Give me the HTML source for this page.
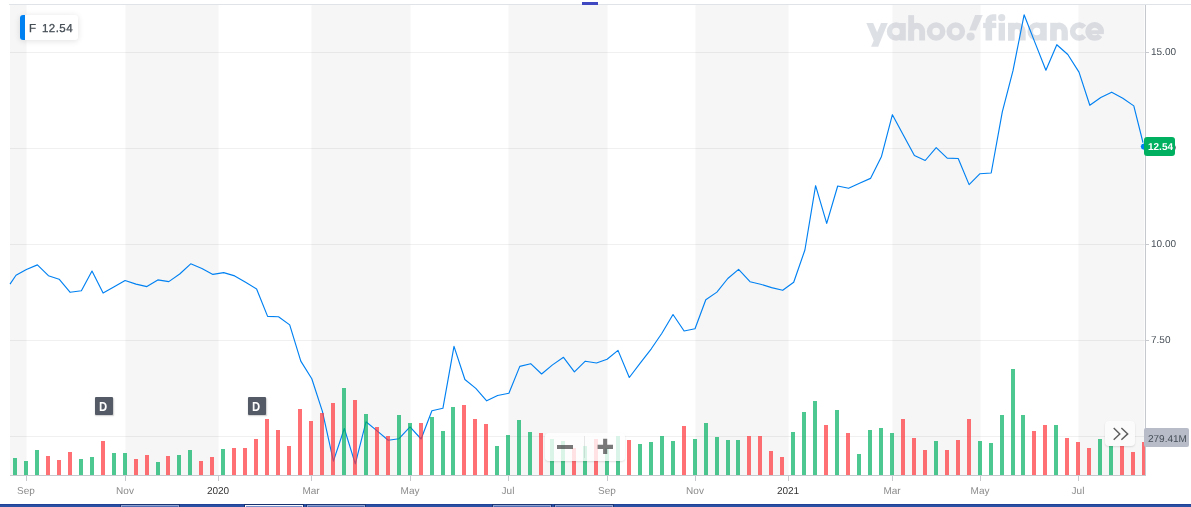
<!DOCTYPE html>
<html><head><meta charset="utf-8"><title>F chart</title>
<style>
html,body{margin:0;padding:0;background:#fff;}
body{width:1191px;height:507px;position:relative;overflow:hidden;font-family:"Liberation Sans",sans-serif;}
#c{position:absolute;left:0;top:0;}
.t{position:absolute;white-space:nowrap;line-height:1;will-change:transform;text-rendering:geometricPrecision;}
.xl{font-size:10px;color:#8a8a8a;width:60px;text-align:center;top:487px;}
.xl.y{color:#333;}
.yl{font-size:10px;color:#464e56;left:1151.2px;}
</style></head><body>
<svg id="c" width="1191" height="507" viewBox="0 0 1191 507">
<rect x="10" y="5" width="16.5" height="470" fill="#f6f6f6"/>
<rect x="125.5" y="5" width="93.0" height="470" fill="#f6f6f6"/>
<rect x="311.5" y="5" width="99.0" height="470" fill="#f6f6f6"/>
<rect x="508.5" y="5" width="99.0" height="470" fill="#f6f6f6"/>
<rect x="695.5" y="5" width="93.0" height="470" fill="#f6f6f6"/>
<rect x="892.5" y="5" width="88.0" height="470" fill="#f6f6f6"/>
<rect x="1078.5" y="5" width="65.79999999999995" height="470" fill="#f6f6f6"/>
<defs><clipPath id="ca1"><rect x="880" y="10" width="25.8" height="40"/></clipPath><clipPath id="ca2"><rect x="1020" y="10" width="26.8" height="40"/></clipPath></defs><g opacity="0.5" fill="#bdc2cc" stroke="none"><polygon points="866.3,23 873.2,23 877.1,32.3 881,23 887.8,23 878.2,46.7 871.1,46.7 873.7,40.4"/><circle cx="896.1" cy="31.5" r="6.55" fill="none" stroke="#bdc2cc" stroke-width="5.6" clip-path="url(#ca1)"/><rect x="899.9" y="23" width="5.9" height="17.5"/><rect x="908.2" y="15.1" width="5.9" height="25.4"/><path d="M911.15 40.5 V31.2 A5.5 5.5 0 0 1 922.15 31.2 V40.5" fill="none" stroke="#bdc2cc" stroke-width="5.9"/><circle cx="936.1" cy="31.5" r="6.55" fill="none" stroke="#bdc2cc" stroke-width="5.6"/><circle cx="955.8" cy="31.5" r="6.55" fill="none" stroke="#bdc2cc" stroke-width="5.6"/><polygon points="975.1,15.1 982.8,15.1 975.9,30.4 969.1,30.4"/><circle cx="970.6" cy="36.6" r="4.1"/><path d="M988.8 40.6 V21.6 A4.1 4.1 0 0 1 992.9 17.5 H996.3" fill="none" stroke="#bdc2cc" stroke-width="6.6"/><rect x="983.1" y="22.8" width="13.2" height="5.3"/><rect x="998.6" y="22.8" width="6.4" height="17.8"/><circle cx="1001.7" cy="17.7" r="3.6"/><rect x="1008" y="22.8" width="6.4" height="17.8"/><path d="M1011.2 40.6 V31.4 A5.65 5.65 0 0 1 1022.5 31.4 V40.6" fill="none" stroke="#bdc2cc" stroke-width="6.4"/><circle cx="1036.8" cy="31.5" r="6.55" fill="none" stroke="#bdc2cc" stroke-width="5.6" clip-path="url(#ca2)"/><rect x="1040.4" y="22.8" width="6.4" height="17.8"/><rect x="1050.2" y="22.8" width="6.4" height="17.8"/><path d="M1053.4 40.6 V31.4 A5.65 5.65 0 0 1 1064.7 31.4 V40.6" fill="none" stroke="#bdc2cc" stroke-width="6.4"/><path d="M1084.22 35.71 A6.55 6.55 0 1 1 1084.22 27.29" fill="none" stroke="#bdc2cc" stroke-width="5.6"/><path d="M1100.00 35.35 A6.55 6.55 0 1 1 1101.25 31.50" fill="none" stroke="#bdc2cc" stroke-width="5.6"/><rect x="1091" y="30.2" width="12.9" height="3.9"/></g>
<rect x="10" y="52" width="1135" height="1" fill="#000" fill-opacity="0.06"/>
<rect x="10" y="148" width="1135" height="1" fill="#000" fill-opacity="0.06"/>
<rect x="10" y="244" width="1135" height="1" fill="#000" fill-opacity="0.06"/>
<rect x="10" y="340" width="1135" height="1" fill="#000" fill-opacity="0.06"/>
<rect x="10" y="436" width="1135" height="1" fill="#000" fill-opacity="0.06"/>
<polyline points="10.0,284.1 16.0,275.3 26.4,269.5 37.4,264.9 48.4,275.7 59.1,279.2 70.2,292.3 81.4,290.8 92.0,271.1 103.1,293.1 114.2,286.8 125.1,280.5 136.0,284.1 146.9,286.6 157.8,279.9 168.8,281.6 179.7,274.0 190.7,263.8 201.9,268.5 212.9,274.4 223.7,272.6 234.7,275.9 245.6,282.2 256.6,289.0 267.6,316.4 278.5,316.7 289.7,324.9 300.8,361.1 311.8,378.8 322.4,411.4 333.4,461.1 344.3,428.5 355.3,463.8 366.0,421.8 377.1,430.9 388.2,440.3 399.0,438.7 410.0,426.9 421.1,439.0 431.9,410.7 442.9,408.3 454.0,346.4 464.9,379.5 475.8,388.4 486.7,400.8 497.6,395.5 508.9,393.3 519.8,366.4 530.7,363.7 541.6,374.0 552.5,364.9 563.5,357.3 574.4,371.9 585.3,361.2 596.5,363.0 607.1,359.3 618.0,350.4 629.3,377.5 640.2,363.1 651.3,348.8 661.9,333.2 673.0,314.5 684.1,331.0 695.0,328.8 705.8,299.7 716.9,292.1 727.8,278.5 738.6,269.4 750.0,281.7 760.5,284.2 771.6,287.6 782.7,290.3 793.7,282.2 804.9,250.0 815.6,185.7 826.7,223.4 837.7,186.0 848.6,188.3 859.5,183.2 870.5,178.4 881.5,156.4 892.4,114.7 903.3,135.1 914.4,155.5 925.2,160.5 936.2,147.6 947.2,158.1 958.2,158.5 969.1,184.6 980.0,173.7 991.2,173.0 1002.3,111.9 1013.0,70.7 1024.1,14.8 1035.0,42.6 1045.9,70.2 1056.8,44.7 1067.8,54.5 1079.0,72.1 1089.8,105.3 1100.8,97.5 1111.7,92.2 1122.8,98.2 1133.8,105.9 1144.0,146.5" fill="none" stroke="#0081f2" stroke-width="1.15" stroke-linejoin="round"/>
<g clip-path="url(#cp)">
<rect x="13" y="458" width="4" height="17" fill="#00b061" fill-opacity="0.7"/>
<rect x="24" y="461" width="4" height="14" fill="#00b061" fill-opacity="0.7"/>
<rect x="35" y="450" width="4" height="25" fill="#00b061" fill-opacity="0.7"/>
<rect x="46" y="456" width="4" height="19" fill="#ff333a" fill-opacity="0.7"/>
<rect x="57" y="460" width="4" height="15" fill="#ff333a" fill-opacity="0.7"/>
<rect x="68" y="452" width="4" height="23" fill="#ff333a" fill-opacity="0.7"/>
<rect x="79" y="459" width="4" height="16" fill="#00b061" fill-opacity="0.7"/>
<rect x="90" y="457" width="4" height="18" fill="#00b061" fill-opacity="0.7"/>
<rect x="101" y="441" width="4" height="34" fill="#ff333a" fill-opacity="0.7"/>
<rect x="112" y="453" width="4" height="22" fill="#00b061" fill-opacity="0.7"/>
<rect x="123" y="453" width="4" height="22" fill="#00b061" fill-opacity="0.7"/>
<rect x="134" y="459" width="4" height="16" fill="#ff333a" fill-opacity="0.7"/>
<rect x="145" y="455" width="4" height="20" fill="#ff333a" fill-opacity="0.7"/>
<rect x="156" y="462" width="4" height="13" fill="#00b061" fill-opacity="0.7"/>
<rect x="166" y="456" width="4" height="19" fill="#ff333a" fill-opacity="0.7"/>
<rect x="177" y="455" width="4" height="20" fill="#00b061" fill-opacity="0.7"/>
<rect x="188" y="450" width="4" height="25" fill="#00b061" fill-opacity="0.7"/>
<rect x="199" y="461" width="4" height="14" fill="#ff333a" fill-opacity="0.7"/>
<rect x="210" y="457" width="4" height="18" fill="#ff333a" fill-opacity="0.7"/>
<rect x="221" y="449" width="4" height="26" fill="#00b061" fill-opacity="0.7"/>
<rect x="232" y="448" width="4" height="27" fill="#ff333a" fill-opacity="0.7"/>
<rect x="243" y="448" width="4" height="27" fill="#ff333a" fill-opacity="0.7"/>
<rect x="254" y="439" width="4" height="36" fill="#ff333a" fill-opacity="0.7"/>
<rect x="265" y="419" width="4" height="56" fill="#ff333a" fill-opacity="0.7"/>
<rect x="276" y="430" width="4" height="45" fill="#ff333a" fill-opacity="0.7"/>
<rect x="287" y="446" width="4" height="29" fill="#ff333a" fill-opacity="0.7"/>
<rect x="298" y="409" width="4" height="66" fill="#ff333a" fill-opacity="0.7"/>
<rect x="309" y="421" width="4" height="54" fill="#ff333a" fill-opacity="0.7"/>
<rect x="320" y="413" width="4" height="62" fill="#ff333a" fill-opacity="0.7"/>
<rect x="331" y="403" width="4" height="72" fill="#ff333a" fill-opacity="0.7"/>
<rect x="342" y="388" width="4" height="87" fill="#00b061" fill-opacity="0.7"/>
<rect x="353" y="400" width="4" height="75" fill="#ff333a" fill-opacity="0.7"/>
<rect x="364" y="414" width="4" height="61" fill="#00b061" fill-opacity="0.7"/>
<rect x="375" y="427" width="4" height="48" fill="#ff333a" fill-opacity="0.7"/>
<rect x="386" y="436" width="4" height="39" fill="#ff333a" fill-opacity="0.7"/>
<rect x="397" y="415" width="4" height="60" fill="#00b061" fill-opacity="0.7"/>
<rect x="408" y="423" width="4" height="52" fill="#00b061" fill-opacity="0.7"/>
<rect x="419" y="423" width="4" height="52" fill="#ff333a" fill-opacity="0.7"/>
<rect x="430" y="417" width="4" height="58" fill="#00b061" fill-opacity="0.7"/>
<rect x="441" y="431" width="4" height="44" fill="#00b061" fill-opacity="0.7"/>
<rect x="451" y="407" width="4" height="68" fill="#00b061" fill-opacity="0.7"/>
<rect x="462" y="405" width="4" height="70" fill="#ff333a" fill-opacity="0.7"/>
<rect x="473" y="419" width="4" height="56" fill="#ff333a" fill-opacity="0.7"/>
<rect x="484" y="424" width="4" height="51" fill="#ff333a" fill-opacity="0.7"/>
<rect x="495" y="446" width="4" height="29" fill="#00b061" fill-opacity="0.7"/>
<rect x="506" y="435" width="4" height="40" fill="#00b061" fill-opacity="0.7"/>
<rect x="517" y="420" width="4" height="55" fill="#00b061" fill-opacity="0.7"/>
<rect x="528" y="432" width="4" height="43" fill="#00b061" fill-opacity="0.7"/>
<rect x="539" y="433" width="4" height="42" fill="#ff333a" fill-opacity="0.7"/>
<rect x="550" y="439" width="4" height="36" fill="#00b061" fill-opacity="0.7"/>
<rect x="561" y="441" width="4" height="34" fill="#00b061" fill-opacity="0.7"/>
<rect x="572" y="448" width="4" height="27" fill="#ff333a" fill-opacity="0.7"/>
<rect x="583" y="446" width="4" height="29" fill="#00b061" fill-opacity="0.7"/>
<rect x="594" y="439" width="4" height="36" fill="#ff333a" fill-opacity="0.7"/>
<rect x="605" y="448" width="4" height="27" fill="#00b061" fill-opacity="0.7"/>
<rect x="616" y="436" width="4" height="39" fill="#00b061" fill-opacity="0.7"/>
<rect x="627" y="440" width="4" height="35" fill="#ff333a" fill-opacity="0.7"/>
<rect x="638" y="444" width="4" height="31" fill="#00b061" fill-opacity="0.7"/>
<rect x="649" y="442" width="4" height="33" fill="#00b061" fill-opacity="0.7"/>
<rect x="660" y="436" width="4" height="39" fill="#00b061" fill-opacity="0.7"/>
<rect x="671" y="441" width="4" height="34" fill="#00b061" fill-opacity="0.7"/>
<rect x="682" y="426" width="4" height="49" fill="#ff333a" fill-opacity="0.7"/>
<rect x="693" y="439" width="4" height="36" fill="#00b061" fill-opacity="0.7"/>
<rect x="704" y="423" width="4" height="52" fill="#00b061" fill-opacity="0.7"/>
<rect x="715" y="437" width="4" height="38" fill="#00b061" fill-opacity="0.7"/>
<rect x="726" y="440" width="4" height="35" fill="#00b061" fill-opacity="0.7"/>
<rect x="736" y="440" width="4" height="35" fill="#00b061" fill-opacity="0.7"/>
<rect x="747" y="436" width="4" height="39" fill="#ff333a" fill-opacity="0.7"/>
<rect x="758" y="436" width="4" height="39" fill="#ff333a" fill-opacity="0.7"/>
<rect x="769" y="451" width="4" height="24" fill="#ff333a" fill-opacity="0.7"/>
<rect x="780" y="457" width="4" height="18" fill="#ff333a" fill-opacity="0.7"/>
<rect x="791" y="432" width="4" height="43" fill="#00b061" fill-opacity="0.7"/>
<rect x="802" y="412" width="4" height="63" fill="#00b061" fill-opacity="0.7"/>
<rect x="813" y="401" width="4" height="74" fill="#00b061" fill-opacity="0.7"/>
<rect x="824" y="425" width="4" height="50" fill="#ff333a" fill-opacity="0.7"/>
<rect x="835" y="410" width="4" height="65" fill="#00b061" fill-opacity="0.7"/>
<rect x="846" y="433" width="4" height="42" fill="#ff333a" fill-opacity="0.7"/>
<rect x="857" y="454" width="4" height="21" fill="#00b061" fill-opacity="0.7"/>
<rect x="868" y="430" width="4" height="45" fill="#00b061" fill-opacity="0.7"/>
<rect x="879" y="428" width="4" height="47" fill="#00b061" fill-opacity="0.7"/>
<rect x="890" y="433" width="4" height="42" fill="#00b061" fill-opacity="0.7"/>
<rect x="901" y="419" width="4" height="56" fill="#ff333a" fill-opacity="0.7"/>
<rect x="912" y="438" width="4" height="37" fill="#ff333a" fill-opacity="0.7"/>
<rect x="923" y="450" width="4" height="25" fill="#ff333a" fill-opacity="0.7"/>
<rect x="934" y="441" width="4" height="34" fill="#00b061" fill-opacity="0.7"/>
<rect x="945" y="450" width="4" height="25" fill="#ff333a" fill-opacity="0.7"/>
<rect x="956" y="440" width="4" height="35" fill="#ff333a" fill-opacity="0.7"/>
<rect x="967" y="419" width="4" height="56" fill="#ff333a" fill-opacity="0.7"/>
<rect x="978" y="441" width="4" height="34" fill="#00b061" fill-opacity="0.7"/>
<rect x="989" y="443" width="4" height="32" fill="#00b061" fill-opacity="0.7"/>
<rect x="1000" y="415" width="4" height="60" fill="#00b061" fill-opacity="0.7"/>
<rect x="1011" y="369" width="4" height="106" fill="#00b061" fill-opacity="0.7"/>
<rect x="1021" y="415" width="4" height="60" fill="#00b061" fill-opacity="0.7"/>
<rect x="1032" y="431" width="4" height="44" fill="#ff333a" fill-opacity="0.7"/>
<rect x="1043" y="425" width="4" height="50" fill="#ff333a" fill-opacity="0.7"/>
<rect x="1054" y="425" width="4" height="50" fill="#00b061" fill-opacity="0.7"/>
<rect x="1065" y="438" width="4" height="37" fill="#ff333a" fill-opacity="0.7"/>
<rect x="1076" y="442" width="4" height="33" fill="#ff333a" fill-opacity="0.7"/>
<rect x="1087" y="448" width="4" height="27" fill="#ff333a" fill-opacity="0.7"/>
<rect x="1098" y="439" width="4" height="36" fill="#00b061" fill-opacity="0.7"/>
<rect x="1109" y="440" width="4" height="35" fill="#00b061" fill-opacity="0.7"/>
<rect x="1120" y="438" width="4" height="37" fill="#ff333a" fill-opacity="0.7"/>
<rect x="1131" y="452" width="4" height="23" fill="#ff333a" fill-opacity="0.7"/>
<rect x="1142" y="442" width="4" height="33" fill="#ff333a" fill-opacity="0.7"/>
</g>
<defs><clipPath id="cp"><rect x="10" y="5" width="1135" height="470"/></clipPath></defs>
<rect x="9" y="4" width="1182" height="1" fill="#e0e3e8"/>
<rect x="1145" y="5" width="1" height="471" fill="#c6c9cd"/>
<rect x="10" y="475" width="1136" height="1" fill="#c6c9cd"/>
<rect x="1146" y="52" width="3" height="1" fill="#c6c9cd"/>
<rect x="1146" y="244" width="3" height="1" fill="#c6c9cd"/>
<rect x="1146" y="340" width="3" height="1" fill="#c6c9cd"/>
<rect x="26" y="476" width="1" height="5" fill="#c6c9cd"/>
<rect x="125" y="476" width="1" height="5" fill="#c6c9cd"/>
<rect x="218" y="476" width="1" height="5" fill="#c6c9cd"/>
<rect x="311" y="476" width="1" height="5" fill="#c6c9cd"/>
<rect x="410" y="476" width="1" height="5" fill="#c6c9cd"/>
<rect x="508" y="476" width="1" height="5" fill="#c6c9cd"/>
<rect x="607" y="476" width="1" height="5" fill="#c6c9cd"/>
<rect x="695" y="476" width="1" height="5" fill="#c6c9cd"/>
<rect x="788" y="476" width="1" height="5" fill="#c6c9cd"/>
<rect x="892" y="476" width="1" height="5" fill="#c6c9cd"/>
<rect x="980" y="476" width="1" height="5" fill="#c6c9cd"/>
<rect x="1078" y="476" width="1" height="5" fill="#c6c9cd"/>
<circle cx="1144" cy="146.6" r="3.7" fill="#0081f2" stroke="#fff" stroke-width="1"/>
</svg>
<div class="t xl" style="left:-3.7px">Sep</div>
<div class="t xl" style="left:95.3px">Nov</div>
<div class="t xl y" style="left:188.3px">2020</div>
<div class="t xl" style="left:281.3px">Mar</div>
<div class="t xl" style="left:380.3px">May</div>
<div class="t xl" style="left:478.3px">Jul</div>
<div class="t xl" style="left:577.3px">Sep</div>
<div class="t xl" style="left:665.3px">Nov</div>
<div class="t xl y" style="left:758.3px">2021</div>
<div class="t xl" style="left:862.3px">Mar</div>
<div class="t xl" style="left:950.3px">May</div>
<div class="t xl" style="left:1048.3px">Jul</div>
<div class="t yl" style="top:47.5px">15.00</div>
<div class="t yl" style="top:239.5px">10.00</div>
<div class="t yl" style="top:335.5px">7.50</div>
<div style="position:absolute;left:582px;top:2px;width:16px;height:3px;background:#3f48c0"></div>
<div style="position:absolute;left:20px;top:15px;width:58px;height:25px;background:#fff;border-radius:3px;box-shadow:0 1px 6px rgba(0,0,0,0.12);overflow:hidden"><div style="position:absolute;left:0;top:0;width:5px;height:25px;background:#0081f2"></div></div>
<div class="t" style="left:29.2px;top:24px;font-size:11.5px;color:#464e56;-webkit-text-stroke:0.3px #464e56;">F</div>
<div class="t" style="left:41.8px;top:24px;font-size:11.5px;letter-spacing:0.45px;color:#464e56;-webkit-text-stroke:0.3px #464e56;">12.54</div>
<div style="position:absolute;left:95px;top:397px;width:18px;height:18px;background:#555b66;border-radius:1px;box-shadow:0.5px 1px 1.5px rgba(0,0,0,0.2)"></div>
<div class="t" style="left:99.1px;top:400px;font-size:13px;font-weight:bold;color:#fff;transform:scaleX(0.86);transform-origin:0 0;">D</div>
<div style="position:absolute;left:248px;top:397px;width:18px;height:18px;background:#555b66;border-radius:1px;box-shadow:0.5px 1px 1.5px rgba(0,0,0,0.2)"></div>
<div class="t" style="left:252.1px;top:400px;font-size:13px;font-weight:bold;color:#fff;transform:scaleX(0.86);transform-origin:0 0;">D</div>
<div style="position:absolute;left:545px;top:433px;width:80px;height:28px;background:rgba(255,255,255,0.8);border-radius:4px;box-shadow:0 1px 2px rgba(0,0,0,0.12)"></div>
<div style="position:absolute;left:584px;top:436px;width:1px;height:22px;background:rgba(0,0,0,0.09)"></div>
<div style="position:absolute;left:557.3px;top:444.8px;width:15.3px;height:4.2px;background:rgba(45,45,45,0.64)"></div>
<svg style="position:absolute;left:595px;top:436px" width="22" height="22" viewBox="595 436 22 22"><path d="M603.1 438.8 H607.2 V444.8 H613 V449 H607.2 V454 H603.1 V449 H597.6 V444.8 H603.1 Z" fill="rgb(45,45,45)" fill-opacity="0.64"/></svg>
<div style="position:absolute;left:1105px;top:421px;width:30px;height:25px;background:#fbfbfb;border-radius:4px;box-shadow:0 1px 2px rgba(0,0,0,0.12)"></div>
<svg style="position:absolute;left:1105px;top:421px" width="30" height="25" viewBox="1105 421 30 25"><path d="M1113.7 428 L1119.8 433.9 L1113.7 439.8 M1121.4 428 L1127.7 433.9 L1121.4 439.8" fill="none" stroke="#5e5e5e" stroke-width="1.45"/></svg>
<div style="position:absolute;left:1144.4px;top:428px;width:44.6px;height:19px;background:#b7bcc8;border-radius:2px"></div>
<div class="t" style="left:1148px;top:435px;font-size:10px;color:#464e56;">279.41M</div>
<div style="position:absolute;left:1171.3px;top:144.6px;width:4.6px;height:5.2px;border-radius:50%;background:#7a6c80"></div>
<div style="position:absolute;left:1144px;top:137px;width:31px;height:19px;background:#00b061;border-radius:3px"></div>
<div class="t" style="left:1148.3px;top:143px;font-size:10px;font-weight:bold;color:#fff;">12.54</div>
<div style="position:absolute;left:0;top:504px;width:1191px;height:3px;background:#2a50a3"></div>
<div style="position:absolute;left:0;top:504px;width:1191px;height:1px;background:#204198"></div>
<div style="position:absolute;left:120px;top:504px;width:60px;height:3px;background:#1b3577"></div>
<div style="position:absolute;left:121px;top:505px;width:58px;height:2px;background:#4f6db3;box-shadow:inset 1px 1px 0 #8ca1cf, inset -1px 0 0 #8ca1cf"></div>
<div style="position:absolute;left:244px;top:504px;width:60px;height:3px;background:#17306f"></div>
<div style="position:absolute;left:245px;top:505px;width:58px;height:2px;background:#7690cc;box-shadow:inset 1px 1px 0 #f4f6fc, inset -1px 0 0 #e4e9f6"></div>
<div style="position:absolute;left:306px;top:504px;width:60px;height:3px;background:#1b3577"></div>
<div style="position:absolute;left:307px;top:505px;width:58px;height:2px;background:#4f6db3;box-shadow:inset 1px 1px 0 #8ca1cf, inset -1px 0 0 #8ca1cf"></div>
<div style="position:absolute;left:492px;top:504px;width:60px;height:3px;background:#1b3577"></div>
<div style="position:absolute;left:493px;top:505px;width:58px;height:2px;background:#4f6db3;box-shadow:inset 1px 1px 0 #8ca1cf, inset -1px 0 0 #8ca1cf"></div>
<div style="position:absolute;left:554px;top:504px;width:60px;height:3px;background:#1b3577"></div>
<div style="position:absolute;left:555px;top:505px;width:58px;height:2px;background:#4f6db3;box-shadow:inset 1px 1px 0 #8ca1cf, inset -1px 0 0 #8ca1cf"></div>
</body></html>
